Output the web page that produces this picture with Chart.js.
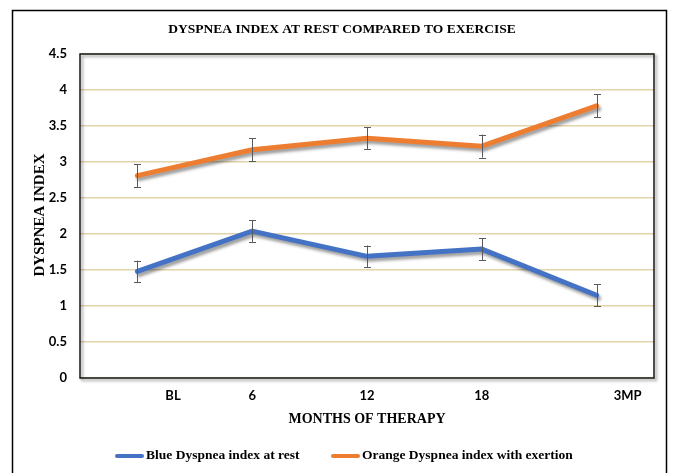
<!DOCTYPE html>
<html>
<head>
<meta charset="utf-8">
<style>
  html, body { margin: 0; padding: 0; background: #fff; }
  #wrap { width: 674px; height: 473px; }
</style>
<script src="https://cdn.jsdelivr.net/npm/chart.js@4"></script>
</head>
<body>
<div id="wrap"><canvas id="chart" width="674" height="473"></canvas></div>
<script>
// Months of therapy
const categories = ['BL', '6', '12', '18', '3MP'];

// Mean dyspnea index and error (±) per visit
const restValues = [1.48, 2.04, 1.69, 1.79, 1.15];
const restError = [0.15, 0.15, 0.15, 0.15, 0.15];
const exertionValues = [2.81, 3.17, 3.33, 3.22, 3.78];
const exertionError = [0.16, 0.16, 0.15, 0.16, 0.16];

const seriesLabels = ['Blue Dyspnea index at rest', 'Orange Dyspnea index with exertion'];

// Where the category labels sit along the month axis
const xLabelPositions = [0.31, 1, 2, 3, 4.27];

const SERIF = '"Liberation Serif", "Times New Roman", serif';
const SANS = 'Lato, "Noto Sans", sans-serif';

const errors = [restError, exertionError];

const framePlugin = {
  id: 'frame',
  beforeDraw(chart) {
    const ctx = chart.ctx;
    ctx.save();
    ctx.fillStyle = '#fff';
    ctx.fillRect(0, 0, chart.width, chart.height);
    ctx.strokeStyle = '#000';
    ctx.lineWidth = 1.5;
    ctx.beginPath();
    ctx.moveTo(12.5, chart.height + 5);
    ctx.lineTo(12.5, 10.5);
    ctx.lineTo(666.5, 10.5);
    ctx.lineTo(666.5, chart.height + 5);
    ctx.stroke();
    ctx.restore();
  },
  beforeDatasetsDraw(chart) {
    const { ctx, chartArea: a } = chart;
    ctx.save();
    ctx.shadowColor = 'rgba(0,0,0,0.45)';
    ctx.shadowOffsetX = 2;
    ctx.shadowOffsetY = 2;
    ctx.shadowBlur = 3;
    ctx.strokeStyle = '#1a1a1a';
    ctx.lineWidth = 1.5;
    ctx.strokeRect(a.left, a.top, a.right - a.left, a.bottom - a.top);
    ctx.restore();
  },
  beforeDatasetDraw(chart) {
    const ctx = chart.ctx;
    ctx.save();
    ctx.shadowColor = 'rgba(0,0,0,0.38)';
    ctx.shadowOffsetX = 2;
    ctx.shadowOffsetY = 3;
    ctx.shadowBlur = 3;
  },
  afterDatasetDraw(chart) {
    chart.ctx.restore();
  },
  afterDatasetsDraw(chart) {
    const ctx = chart.ctx;
    const xs = chart.scales.x, ys = chart.scales.y;
    ctx.save();
    ctx.strokeStyle = '#595959';
    ctx.lineWidth = 1;
    chart.data.datasets.forEach((ds, i) => {
      ds.data.forEach((pt, j) => {
        const e = errors[i][j];
        const x = Math.round(xs.getPixelForValue(pt.x)) + 0.5;
        const yt = ys.getPixelForValue(pt.y + e);
        const yb = ys.getPixelForValue(pt.y - e);
        ctx.beginPath();
        ctx.moveTo(x, yt); ctx.lineTo(x, yb);
        ctx.moveTo(x - 3.5, Math.round(yt) + 0.5); ctx.lineTo(x + 3.5, Math.round(yt) + 0.5);
        ctx.moveTo(x - 3.5, Math.round(yb) + 0.5); ctx.lineTo(x + 3.5, Math.round(yb) + 0.5);
        ctx.stroke();
      });
    });
    ctx.restore();
  },
  afterDraw(chart) {
    const { ctx, chartArea: a } = chart;
    ctx.save();
    ctx.fillStyle = '#000';
    ctx.textBaseline = 'middle';
    ctx.textAlign = 'center';
    ctx.font = 'bold 13.5px ' + SERIF;
    ctx.fillText('DYSPNEA INDEX AT REST COMPARED TO EXERCISE', 342, 30);

    ctx.font = 'bold 14px ' + SERIF;
    ctx.fillText('MONTHS OF THERAPY', (a.left + a.right) / 2, 419);

    ctx.save();
    ctx.translate(40, 215);
    ctx.rotate(-Math.PI / 2);
    ctx.font = 'bold 15px ' + SERIF;
    ctx.fillText('DYSPNEA INDEX', 0, 0);
    ctx.restore();

    // legend
    const legendX = [115, 331];
    const ly = 456;
    ctx.textAlign = 'left';
    ctx.font = 'bold 13.5px ' + SERIF;
    chart.data.datasets.forEach((ds, i) => {
      const x0 = legendX[i];
      ctx.strokeStyle = ds.borderColor;
      ctx.lineWidth = 4;
      ctx.lineCap = 'round';
      ctx.beginPath();
      ctx.moveTo(x0 + 2, ly);
      ctx.lineTo(x0 + 27, ly);
      ctx.stroke();
      ctx.fillStyle = '#000';
      ctx.fillText(ds.label, x0 + 31, ly);
    });
    ctx.restore();
  }
};

new Chart(document.getElementById('chart'), {
  type: 'line',
  data: {
    datasets: [
      {
        label: seriesLabels[0],
        data: restValues.map((v, i) => ({ x: i, y: v })),
        borderColor: '#4472C4',
        backgroundColor: '#4472C4',
        borderWidth: 5,
        pointRadius: 0,
        tension: 0,
        borderJoinStyle: 'round',
        borderCapStyle: 'round'
      },
      {
        label: seriesLabels[1],
        data: exertionValues.map((v, i) => ({ x: i, y: v })),
        borderColor: '#ED7D31',
        backgroundColor: '#ED7D31',
        borderWidth: 5,
        pointRadius: 0,
        tension: 0,
        borderJoinStyle: 'round',
        borderCapStyle: 'round'
      }
    ]
  },
  options: {
    responsive: false,
    animation: false,
    events: [],
    layout: { padding: { left: 0, top: 54, right: 20, bottom: 65 } },
    plugins: {
      legend: { display: false },
      title: { display: false },
      tooltip: { enabled: false }
    },
    scales: {
      x: {
        type: 'linear',
        min: -0.5,
        max: 4.5,
        afterBuildTicks(scale) {
          scale.ticks = xLabelPositions.map(v => ({ value: v }));
        },
        afterFit(scale) { scale.height = 30; },
        grid: { display: false, drawTicks: false },
        border: { display: false },
        ticks: {
          autoSkip: false,
          maxRotation: 0,
          padding: 10,
          color: '#000',
          font: { family: SANS, size: 13, weight: 'bold' },
          callback(value, index) { return categories[index]; }
        }
      },
      y: {
        min: 0,
        max: 4.5,
        afterFit(scale) { scale.width = 80; },
        grid: { color: '#e2d3aa', lineWidth: 1.5, drawTicks: false },
        border: { display: false },
        ticks: {
          stepSize: 0.5,
          padding: 13,
          color: '#000',
          font: { family: SANS, size: 13, weight: 'bold' },
          callback(value) { return String(Number(value.toFixed(1))); }
        }
      }
    }
  },
  plugins: [framePlugin]
});
</script>
</body>
</html>
